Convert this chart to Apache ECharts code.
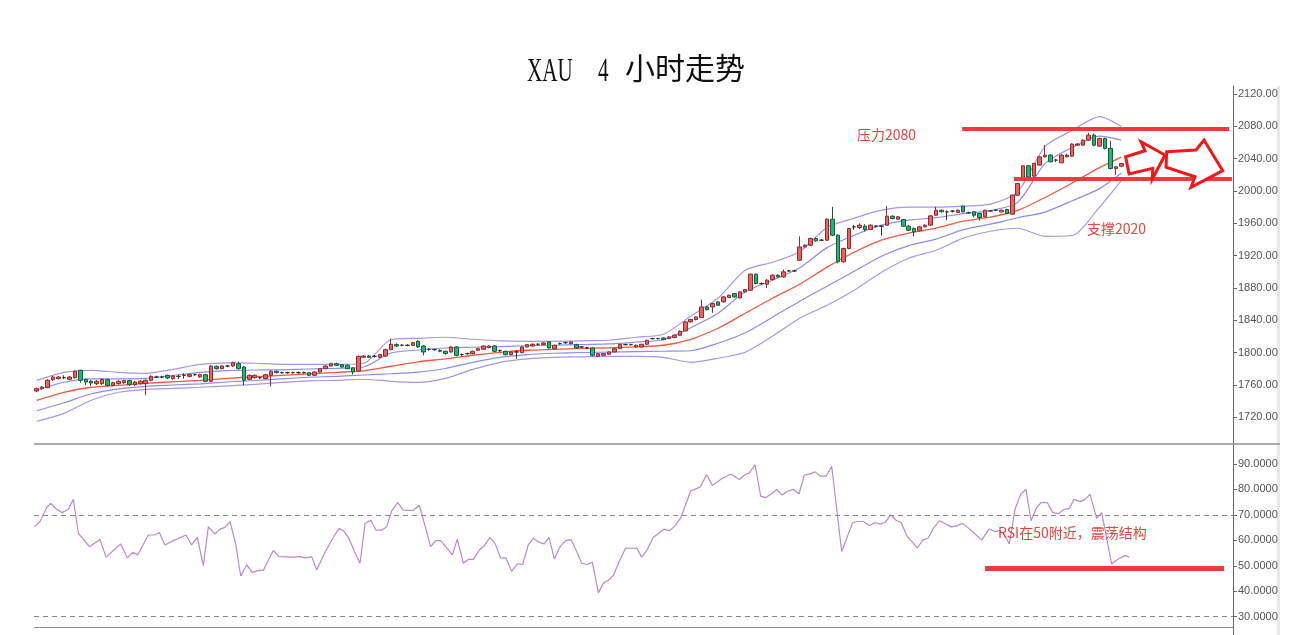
<!DOCTYPE html>
<html>
<head>
<meta charset="utf-8">
<script src="https://cdn.jsdelivr.net/npm/echarts@6/dist/echarts.min.js"></script>
<style>html,body{margin:0;padding:0;background:#fff;}#main{width:1300px;height:635px;}</style>
</head>
<body>
<div id="main"></div>
<script>
// ---- data ----
const slotCount = 220; // 200 candles + empty space on the right
const priceTicks = [1720,1760,1800,1840,1880,1920,1960,2000,2040,2080,2120];
const rsiTicks = [30,40,50,60,70,80,90];
// [open, close, low, high]
const candles = [
[1752.6,1755.5,1751,1757],[1755.5,1757.5,1754,1758.5],[1756.7,1765.8,1756,1767],[1766.6,1769.9,1765,1771],[1767.9,1769.9,1767,1771],
[1769.1,1769.1,1767.5,1772],[1767,1769.9,1766,1771],[1769.1,1776.9,1768,1778],[1778.2,1765.8,1763,1779],[1767,1763.7,1760,1768],
[1764.6,1762.5,1759,1766],[1761.7,1764.6,1760,1766],[1761.7,1767,1760,1768],[1766.6,1759.6,1758,1768],[1759.6,1762.9,1758.5,1764],
[1761.7,1764.6,1760.5,1766],[1762.9,1765.4,1761.5,1766.5],[1765.4,1760.4,1759,1766.5],[1760.4,1763.7,1759,1765],[1761.7,1764.6,1760.5,1766],
[1761.7,1765.8,1747.2,1767],[1765.8,1770.7,1764.5,1772],[1769.9,1769.9,1768.5,1771.5],[1769.9,1769.9,1768.5,1771.5],[1772,1768.7,1767.5,1773],
[1767.9,1771.2,1766.5,1772.5],[1770.7,1770.7,1767.5,1773],[1772,1772,1768,1774.5],[1770.7,1772.8,1769.5,1774],[1772.8,1772.8,1771.5,1774],
[1769.9,1772.8,1769,1774],[1772.8,1764.6,1763.5,1774],[1764.6,1783.5,1763.5,1784.5],[1783.1,1780.2,1779,1784],[1780.2,1783.5,1779.5,1784.5],
[1783.5,1783.5,1782,1785],[1783.5,1787.7,1782.5,1789],[1786.4,1780.2,1779,1789],[1782.3,1765.8,1759.6,1783.5],[1767,1772,1766,1773],
[1769.1,1772,1768,1773],[1769.1,1769.1,1767.5,1770.5],[1767.9,1772.8,1767,1774],[1772,1776.9,1758.4,1778],[1776.9,1775.3,1774.5,1778],
[1775.3,1775.3,1774,1776.5],[1775.3,1775.3,1774,1776.5],[1775.3,1775.3,1774,1776.5],[1775.3,1775.3,1774,1776.5],[1775.3,1775.3,1774,1776.5],
[1775.3,1772,1771,1776],[1772,1776.1,1771,1777],[1776.1,1780.2,1775.5,1781],[1780.2,1783.5,1779.5,1784.5],[1783.5,1786.4,1783,1787.5],
[1786.4,1784.4,1783.5,1787.5],[1785.2,1782.3,1781.5,1786],[1784.4,1780.2,1779.5,1785.5],[1781.1,1776.1,1773,1782],[1777.3,1795.5,1776.5,1796.5],
[1794.3,1795.9,1793.5,1797],[1795.9,1794.3,1793.5,1797],[1795.5,1795.5,1794,1797],[1794.3,1797.6,1793.5,1798.5],[1795.9,1803.8,1795,1805],
[1803.8,1810.4,1803,1817.4],[1810,1808.3,1807,1811.5],[1809.1,1809.1,1808,1810.5],[1809.1,1809.1,1808,1810.5],[1809.1,1812.4,1808,1813.5],
[1814.1,1807.1,1806,1815.5],[1808.3,1800.9,1796.7,1809.5],[1804.2,1804.2,1802.5,1805.5],[1803.8,1803.8,1802.5,1805],[1802.9,1801.7,1800.5,1804],
[1801.7,1798.8,1797.5,1802.5],[1800.9,1807.1,1800,1808],[1807.1,1796.7,1795.5,1808],[1797.6,1797.6,1795.5,1799],[1798.8,1798.8,1797.5,1800],
[1798.8,1801.7,1798,1802.5],[1802.9,1805,1802,1806],[1804.2,1808.3,1803.5,1809],[1806.2,1808.3,1805.5,1809],[1808.3,1801.7,1800.5,1809.5],
[1802.5,1802.5,1801,1804],[1801.7,1797.6,1796.5,1802.5],[1797.6,1800.9,1797,1801.5],[1800.9,1800.9,1792.6,1802.9],[1800,1807.1,1799.5,1808],
[1807.1,1810,1806.5,1811],[1808.3,1810.4,1807.5,1811.5],[1810.4,1810.4,1809,1811.5],[1810,1812,1809.5,1813],[1813.3,1805.8,1805,1814.5],
[1805,1809.1,1804.5,1810],[1811.2,1811.2,1810,1812.5],[1812.4,1812.4,1811,1813.5],[1811.2,1813.3,1810.5,1814],[1810,1805.8,1805,1811],
[1807.1,1807.1,1806,1808],[1805.8,1805.8,1804.5,1807],[1805.8,1796.7,1795.5,1806.5],[1795.5,1798.8,1795,1799.5],[1796.8,1798.8,1796,1799.5],
[1798,1800.9,1797.5,1801.5],[1800.9,1805,1800.5,1806],[1805,1810,1804.5,1811],[1810,1810,1809,1811],[1810,1810,1809,1811],
[1807.1,1809.2,1806.5,1810],[1807.1,1810.4,1806.5,1811],[1810.4,1815.3,1810,1816],[1817.4,1817.4,1816.5,1818.5],[1817.4,1817.4,1816.5,1818.5],
[1818.2,1816.2,1815.5,1819],[1817.4,1819.5,1817,1820.5],[1818.7,1821.6,1818,1822.5],[1821.6,1826.5,1821,1827.5],[1826.9,1838.1,1826.5,1839],
[1838.1,1841,1837.5,1842],[1841,1844.2,1840,1845],[1843.4,1856.6,1843,1865.7],[1856.6,1853.3,1852,1858],[1856.6,1860.8,1849.2,1861.5],
[1862.8,1858.7,1858,1864],[1862.8,1869,1862,1870],[1868.2,1871.1,1867.5,1872],[1873.1,1869,1868,1874],[1867.8,1875.2,1867,1876],
[1875.2,1878.1,1874.5,1879],[1877.3,1897.1,1876.5,1898],[1897.1,1885.5,1884.5,1898],[1885.5,1885.5,1884,1887],[1884.7,1889.7,1880,1891],
[1890.5,1895.8,1889.5,1897],[1895.8,1893.8,1893,1897],[1893.8,1900,1893,1903],[1901.2,1901.2,1900,1902.5],[1901.2,1901.2,1900,1902.5],
[1914.4,1930.9,1913.5,1944],[1930.9,1933,1930,1934],[1933,1941.3,1932,1942.5],[1941.3,1938.4,1937.5,1942.5],[1939.2,1939.2,1938,1940.5],
[1939.2,1965.2,1938.5,1966],[1965.2,1945.4,1944.5,1980.5],[1945.4,1912.4,1910.5,1946.5],[1912.4,1928.9,1911.5,1930],[1928.9,1953.6,1928,1954.5],
[1955.7,1955.7,1952,1958],[1954.9,1957.8,1953,1960],[1956.5,1952.4,1950,1959],[1952.4,1957.8,1951.5,1959],[1956.5,1956.5,1955,1958],
[1956.5,1956.5,1945,1958],[1957.8,1968.9,1957,1981.3],[1968.9,1966,1965,1970],[1965.2,1968.1,1964.5,1969],[1964.8,1956.5,1955.5,1965.5],
[1956.5,1951.6,1950.5,1958],[1953.6,1949.5,1944,1955],[1950.8,1955.7,1950,1957],[1955.7,1957.8,1955,1959],[1957.8,1969.3,1957,1970],
[1970.1,1976.3,1969.5,1980.5],[1976.3,1974.3,1973.5,1977],[1974.3,1974.3,1964,1976],[1975.1,1975.1,1973.5,1976.5],[1973.5,1976.3,1973,1977],
[1981.3,1974.3,1973.5,1982],[1973.1,1973.1,1972,1974.5],[1974.3,1970.1,1967.5,1975],[1972.2,1967.3,1963.5,1973],[1968.1,1976.3,1967.5,1977],
[1975.5,1975.5,1974.5,1976.5],[1976.3,1976.3,1975,1977.5],[1974.3,1976.3,1973.5,1977],[1977.2,1972.2,1971.5,1978],[1971.4,1994.9,1971,1995.5],
[1994.9,2009.4,1994,2010],[2013.5,2031.2,2013,2032],[2031.2,2017.6,2016.5,2032],[2018.5,2034.1,2017.5,2035],[2032.1,2042.4,2031.5,2043.5],
[2042.4,2044.5,2041.5,2056.8],[2044.5,2036.2,2035.5,2045.5],[2038.3,2038.3,2036,2040],[2035,2044.5,2034.5,2045.5],[2042.4,2044.5,2041.5,2046],
[2043.2,2058.1,2042.5,2059],[2056.8,2058.1,2056,2059.5],[2056.8,2063,2056,2064],[2063,2069.2,2062,2072],[2069.2,2056.8,2055.5,2071],
[2055.6,2065.1,2054.5,2066],[2065.1,2052.7,2051.5,2066],[2052.7,2027.9,2026.5,2062],[2027.9,2030,2020,2031],[2030.8,2034.1,2029.5,2035]
];
// Bollinger-style band lines read at sample candle positions
const bandIdx = [0,5,10,15,20,25,30,35,40,45,50,55,60,65,70,75,80,85,90,95,100,105,110,115,120,125,130,135,140,145,150,155,160,165,170,175,180,185,190,195,199];
const bandMid = [1741.1,1751.0,1757.2,1759.6,1762.1,1764.0,1765.8,1768.3,1770.2,1772.0,1773.9,1775.7,1777.6,1783.2,1788.7,1792.4,1796.8,1800.5,1803.0,1804.2,1805.4,1806.1,1807.3,1809.2,1816.6,1830.2,1848.8,1867.4,1884.7,1905.8,1924.3,1939.2,1947.9,1954.1,1962.7,1967.7,1976,1992,2010,2029,2042];
const bandUp2 = [1765.8,1775.7,1778.2,1775.7,1774.5,1779.4,1785.6,1787.5,1786.9,1785.6,1785.6,1785.6,1786.9,1816,1817.8,1819.1,1816.6,1814.7,1814.1,1814.1,1814.7,1815.4,1819.1,1822.8,1845.1,1867.4,1902.0,1911.9,1925,1955,1966.4,1976.3,1980.1,1980.1,1981.3,1983.8,1999,2055,2075,2092,2080];
const bandUp1 = [1753.5,1763.4,1767.7,1767.7,1768.3,1771.7,1775.7,1777.9,1778.6,1778.8,1779.8,1780.7,1782.3,1799.6,1803.3,1805.8,1806.7,1807.6,1808.6,1809.2,1810.1,1810.8,1813.2,1816.0,1830.9,1848.8,1875.4,1889.7,1905,1930,1945.4,1957.8,1964.0,1967.1,1972.0,1975.8,1986,2034,2054,2068,2063];
const bandLo1 = [1728.1,1738.0,1749.2,1755.3,1758.4,1760.0,1761.5,1763.7,1765.6,1767.7,1769.6,1770.8,1772.4,1773.9,1776.0,1780.4,1788.1,1794.3,1797.7,1799.3,1800.2,1800.8,1801.4,1801.8,1802.4,1811.7,1824.7,1843.9,1863.7,1882.3,1900.8,1919.4,1932.4,1940.5,1952.2,1959.0,1967,1974,1988,2003,2022];
const bandLo2 = [1715.0,1724.9,1741.1,1751.0,1754.7,1755.9,1757.2,1759.0,1760.9,1763.3,1765.2,1765.8,1767.1,1764.6,1763.3,1768.3,1779.4,1788.1,1792.4,1794.3,1794.9,1795.5,1795.5,1794.3,1788.1,1793.1,1800.5,1820.3,1842.6,1858.7,1877.3,1899.6,1916.9,1926.8,1941.7,1950.3,1954,1944,1945,1980,2013];
// RSI vertices (candle position, value)
const rsiPos = [-0.43,0.61,1.83,2.56,3.66,4.70,5.80,6.72,7.64,8.56,9.66,11.61,12.72,14.37,15.41,16.63,17.61,18.53,20.48,21.58,22.50,23.54,25.07,26.17,27.39,28.43,29.47,30.57,31.49,32.72,33.63,34.55,35.47,36.45,37.43,38.53,39.56,40.67,41.58,42.38,43.42,44.46,47.09,48.31,49.41,50.45,51.37,52.90,54.43,55.47,56.26,57.18,58.22,59.32,60.24,61.28,62.26,63.30,64.21,65.13,66.23,67.27,69.11,70.21,71.25,72.29,73.21,74.12,75.22,76.26,77.18,78.28,79.20,80.12,81.22,82.13,83.17,84.09,85.13,86.11,87.15,88.19,89.17,90.21,91.13,92.22,93.14,94.00,94.98,96.02,97.06,98.04,99.08,99.99,101.03,101.95,103.05,103.97,104.89,105.80,106.90,108.07,109.17,110.09,111.00,111.92,113.14,114.06,115.10,116.08,117.12,118.22,119.08,120.00,121.71,122.93,123.97,125.68,127.33,128.92,129.96,130.76,131.80,132.84,133.76,134.86,135.78,136.81,137.79,138.83,139.87,140.85,141.89,142.81,143.85,144.83,145.87,147.70,149.72,150.76,151.68,152.78,153.82,154.73,155.65,156.69,157.67,158.59,159.75,160.73,161.58,162.56,163.60,164.52,165.62,166.66,167.76,168.80,169.84,170.82,171.86,173.39,174.73,175.83,176.75,177.67,178.46,179.50,180.54,181.52,182.44,183.48,184.28,185.44,186.42,187.46,188.50,189.47,190.33,191.43,192.35,193.27,194.49,195.41,197.24,198.46,199.69,200.48];
const rsiVal = [65.3,67.4,72.9,74.5,72.2,70.9,72.2,76.1,62.7,60.5,57.5,60.3,53.4,56.6,58.6,53.1,55.3,54.3,62.1,62.1,63.1,58.2,59.9,60.9,62.1,58.2,61.2,50.1,65.3,62.5,64.4,65.1,67.3,59.2,46,50.4,47.3,48.2,48.2,51.7,56,53.6,53.4,53.6,53.1,53.6,48.4,55.3,61.2,64.7,63.8,61.2,56,51,66.6,67.9,64,64,65.3,71.6,74.8,71.9,71.8,73.8,65.7,57.5,59.9,59.9,57,54.3,60.5,51,52.5,52.5,56.2,57.9,61.2,58.8,53.1,53.1,47.9,50.8,50.5,58.3,60.8,59.2,58.6,61.2,52.7,57.5,59.9,60.3,55.6,51,50.5,51.4,39.4,43.2,44.3,46.2,51.8,57,56.9,57,53.4,56,61.2,62.7,64.4,63.8,65.7,69,74.2,79.4,80.9,85.8,81.6,84.2,86.1,83.9,85.8,86.5,89.7,77.4,76.8,78.3,80,77.8,79.4,80,78.3,85.6,86.1,86.9,85.2,85.2,89.1,55.6,67,67.4,67.4,65.7,67,66.4,67,70,67.9,67,61.4,59.2,57,60.1,60.9,64.7,67.7,66.6,65.3,65.7,66.6,65.1,63.1,60.1,64.4,63.5,63.8,61.8,58.6,72.2,78.1,80,67.7,72.9,74.8,74.8,70.9,70.5,72.2,72.5,76.1,75.2,76.1,78.1,68.6,70.9,50.8,52.7,54,53.4];
// annotation levels
const resistanceLevel = 2077, supportLevel = 2015.6, rsiMarkLevel = 49;
const rsiBands = [70, 30];

// ---- chart ----
const categories = [];
for (let i = 0; i < slotCount; i++) categories.push(String(i));
const pair = (xs, ys) => xs.map((x, k) => [x, ys[k]]);
const RED = '#ec3b3b';
const TXT = '#e5463f';

const chart = echarts.init(document.getElementById('main'), null, {renderer: 'canvas'});
function bandSeries(vals, color, w) {
  return {type:'line', xAxisIndex:1, yAxisIndex:0, data: pair(bandIdx, vals), showSymbol:false, smooth:0.25,
    lineStyle:{color:color, width:w}, z:2, silent:true};
}
const noLbl = {show:false};
const option = {
  animation:false,
  backgroundColor:'#ffffff',
  grid:[{left:34, top:86, width:1199, height:358},{left:34, top:444, width:1199, height:183}],
  xAxis:[
    {type:'category', gridIndex:0, data:categories, boundaryGap:true, show:false},
    {type:'value', gridIndex:0, min:-0.5, max:slotCount-0.5, show:false},
    {type:'value', gridIndex:1, min:-0.5, max:slotCount-0.5, show:false}
  ],
  yAxis:[
    {type:'value', gridIndex:0, position:'right', min:1687, max:2130, scale:true,
     axisLine:{show:true, onZero:false, lineStyle:{color:'#666', width:1}},
     axisTick:{show:true, length:4, customValues:priceTicks, lineStyle:{color:'#666'}},
     axisLabel:{customValues:priceTicks, formatter:v=>Number(v).toFixed(2), color:'#555', fontSize:11, fontFamily:'Liberation Sans', margin:5},
     splitLine:{show:false}},
    {type:'value', gridIndex:1, position:'right', min:25.95, max:97.86, scale:true,
     axisLine:{show:true, onZero:false, lineStyle:{color:'#666', width:1}},
     axisTick:{show:true, length:4, customValues:rsiTicks, lineStyle:{color:'#666'}},
     axisLabel:{customValues:rsiTicks, formatter:v=>Number(v).toFixed(4), color:'#555', fontSize:11, fontFamily:'Liberation Sans', margin:5},
     splitLine:{show:false}}
  ],
  series:[
    bandSeries(bandUp2, '#a896e8', 1.2),
    bandSeries(bandUp1, '#8c8cec', 1.2),
    bandSeries(bandMid, '#ef5a44', 1.3),
    bandSeries(bandLo1, '#8c8cec', 1.2),
    bandSeries(bandLo2, '#a896e8', 1.2),
    {type:'candlestick', xAxisIndex:0, yAxisIndex:0, data:candles, barWidth:4, z:3,
     itemStyle:{color:'#f0605c', color0:'#22b573', borderColor:'#8a2f2f', borderColor0:'#1d5a3c', borderColorDoji:'#333', borderWidth:1}},
    {type:'line', xAxisIndex:1, yAxisIndex:0, data:[], z:6, silent:true,
     markLine:{silent:true, symbol:['none','none'], label:noLbl, animation:false,
       lineStyle:{color:RED, width:4, type:'solid', cap:'butt'},
       data:[
         [{coord:[169.8, resistanceLevel]},{coord:[218.8, resistanceLevel]}],
         [{coord:[179.3, supportLevel]},{coord:[219.3, supportLevel]}]
       ]}},
    {type:'line', xAxisIndex:2, yAxisIndex:1, data:pair(rsiPos, rsiVal), showSymbol:false, z:3, silent:true,
     lineStyle:{color:'#b98ac9', width:1.2},
     markLine:{silent:true, symbol:['none','none'], label:noLbl, animation:false,
       data:[
         {yAxis:rsiBands[0], lineStyle:{color:'#8a8a8a', width:1, type:[5,4]}},
         {yAxis:rsiBands[1], lineStyle:{color:'#8a8a8a', width:1, type:[5,4]}},
         [{coord:[174.0, rsiMarkLevel], lineStyle:{color:RED, width:5, type:'solid'}},{coord:[217.85, rsiMarkLevel]}]
       ]}}
  ],
  graphic:[
    {type:'rect', shape:{x:1277, y:86, width:3, height:549}, style:{fill:'#e8e8e8'}, silent:true, z:0},
    {type:'line', shape:{x1:34, y1:444, x2:1280, y2:444}, style:{stroke:'#8f8f8f', lineWidth:1.5}, silent:true, z:10},
    {type:'line', shape:{x1:34, y1:627.5, x2:1233, y2:627.5}, style:{stroke:'#8f8f8f', lineWidth:1.2}, silent:true, z:10},
    {type:'line', shape:{x1:1233.5, y1:627, x2:1233.5, y2:635}, style:{stroke:'#666', lineWidth:1}, silent:true, z:10},
    {type:'text', left:527, top:55, style:{text:'XAU', font:'34px "Liberation Serif"', fill:'#111'}, scaleX:0.62, z:10},
    {type:'text', left:598, top:55, style:{text:'4', font:'34px "Liberation Serif"', fill:'#111'}, scaleX:0.62, z:10},
    {type:'text', left:625, top:53, style:{text:'小时走势', font:'30px "Noto Sans CJK SC"', fill:'#111'}, z:10},
    {type:'text', left:857, top:128, style:{text:'压力2080', font:'14px "Noto Sans CJK SC"', fill:TXT}, z:10},
    {type:'text', left:1087, top:222, style:{text:'支撑2020', font:'14px "Noto Sans CJK SC"', fill:TXT}, z:10},
    {type:'text', left:998, top:526, style:{text:'RSI在50附近，震荡结构', font:'14px "Noto Sans CJK SC"', fill:TXT}, z:10},
    {type:'polygon', shape:{points:[[1125.7,156.7],[1145,150.7],[1141,141.7],[1165,155],[1152.3,179],[1152.7,168.3],[1129,174]]},
     style:{fill:'#ffffff', stroke:'#f01818', lineWidth:3}, z:12},
    {type:'polygon', shape:{points:[[1166.7,151.7],[1196,150],[1204,140],[1222.7,170.7],[1191,187.3],[1195,176.7],[1166,167.3]]},
     style:{fill:'#ffffff', stroke:'#f01818', lineWidth:3}, z:12}
  ]
};
chart.setOption(option);
</script>
</body>
</html>
